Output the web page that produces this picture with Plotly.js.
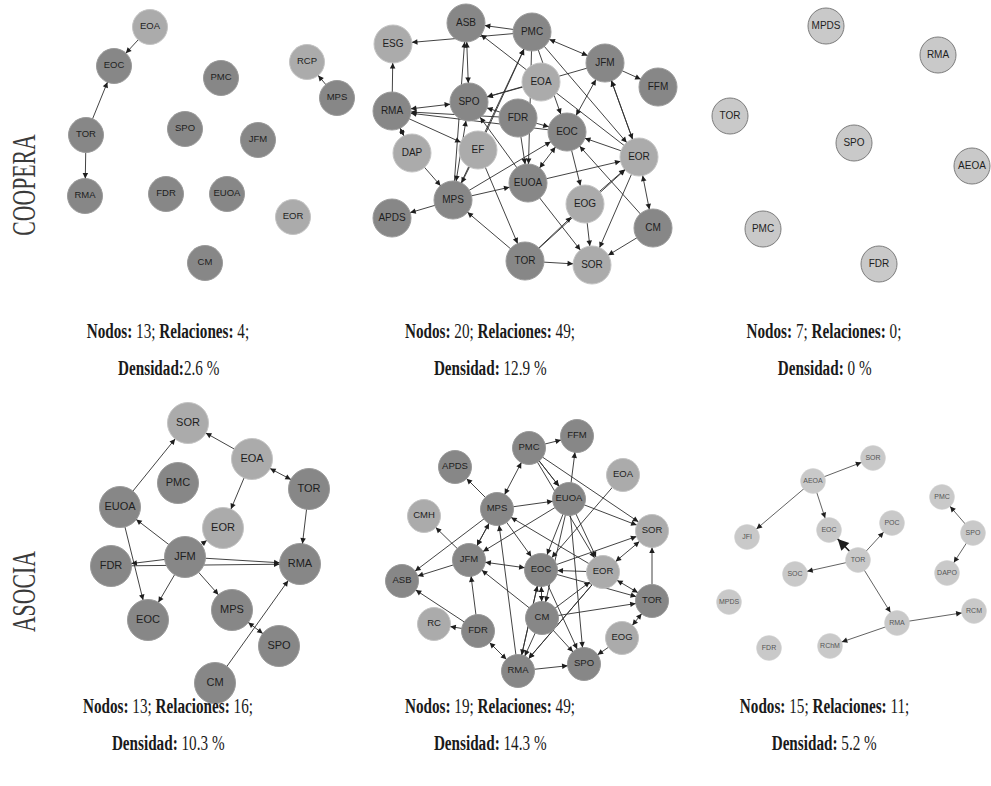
<!DOCTYPE html>
<html>
<head>
<meta charset="utf-8">
<script src="https://cdn.plot.ly/plotly-3.0.1.min.js"></script>
<style>html,body{margin:0;padding:0;background:#fff;}#chart{width:991px;height:786px;}</style>
</head>
<body>
<div id="chart"></div>
<script>
// ---------- DATA ----------
// Panel 1: COOPERA (col 1)
const p1Names = ['EOA','EOC','PMC','RCP','MPS','TOR','SPO','JFM','RMA','FDR','EUOA','EOR','CM'];
const p1X     = [150,114,221,307,337,86,185,258,85,166,227,293,205];
const p1Y     = [27,66,78,62,98,135,129,140,196,194,194,217,263];
const p1Tone  = [0,1,1,0,1,1,1,1,1,1,1,0,1];
const p1From  = ['EOA','TOR','TOR','MPS'];
const p1To    = ['EOC','EOC','RMA','RCP'];
const p1Both  = [0,0,0,0];

// Panel 2: COOPERA (col 2)
const p2Names = ['ASB','PMC','ESG','JFM','FFM','EOA','RMA','SPO','FDR','EOC','DAP','EF','EOR','EUOA','MPS','EOG','APDS','CM','TOR','SOR'];
const p2X     = [466,532,393,605,658,541,392,469,518,567,412,478,639,528,453,585,392,653,525,592];
const p2Y     = [23,32,44,63,87,82,111,102,118,132,153,150,157,183,200,204,218,228,261,265];
const p2Tone  = [1,1,0,1,1,0,1,1,1,1,0,0,0,1,1,0,1,1,1,0];
const p2From  = ['PMC','PMC','RMA','PMC','JFM','EOA','JFM','EOR','PMC','PMC','MPS','SPO','MPS','RMA','RMA','FDR','EOC','RMA','DAP','SPO','EF','FDR','FDR','EUOA','EF','MPS','MPS','MPS','TOR','EUOA','EOC','EOC','EOR','JFM','EOG','EOR','CM','CM','CM','EOG','EUOA','TOR','TOR','TOR','FDR','EOC','PMC','EF','EOR'];
const p2To    = ['ASB','ESG','ESG','JFM','FFM','SPO','SPO','ASB','EOR','EUOA','PMC','ASB','ASB','SPO','EF','RMA','RMA','DAP','MPS','MPS','MPS','SPO','EOC','SPO','TOR','EOC','EUOA','APDS','MPS','EOR','EUOA','JFM','EOC','EOR','EOR','SOR','EOR','EOC','SOR','SOR','SOR','SOR','EOG','EOR','EUOA','EOG','EOC','PMC','JFM'];
const p2Both  = [0,0,0,1,0,0,0,0,0,0,0,1,0,1,0,0,0,1,0,1,0,0,0,0,0,0,0,0,0,0,1,1,0,1,0,0,1,0,0,0,0,0,0,0,0,0,0,0,0];

// Panel 3: COOPERA (col 3)
const p3Names = ['MPDS','RMA','TOR','SPO','AEOA','PMC','FDR'];
const p3X     = [826,938,730,854,972,763,879];
const p3Y     = [26,55,116,143,166,229,264];
const p3From  = [];
const p3To    = [];
const p3Both  = [];

// Panel 4: ASOCIA (col 1)
const p4Names = ['SOR','EOA','PMC','TOR','EUOA','EOR','JFM','FDR','RMA','EOC','MPS','SPO','CM'];
const p4X     = [188,252,178,309,120,223,185,111,300,148,232,279,215];
const p4Y     = [423,459,483,489,507,528,557,566,564,620,610,646,683];
const p4Tone  = [0,0,1,1,1,0,1,1,1,1,1,1,1];
const p4From  = ['EUOA','EOA','EOA','EOA','TOR','JFM','JFM','JFM','FDR','JFM','JFM','EUOA','JFM','MPS','CM'];
const p4To    = ['SOR','SOR','TOR','EOR','RMA','EUOA','EOR','FDR','RMA','RMA','EOC','EOC','MPS','SPO','RMA'];
const p4Both  = [0,0,1,0,0,0,0,0,0,0,0,0,0,1,0];

// Panel 5: ASOCIA (col 2)
const p5Names = ['FFM','PMC','APDS','EOA','EUOA','MPS','CMH','SOR','JFM','EOC','EOR','ASB','TOR','CM','RC','FDR','EOG','SPO','RMA'];
const p5X     = [577,529,455,623,569,497,424,652,469,541,603,402,652,542,434,478,622,584,518];
const p5Y     = [436,448,467,475,499,509,516,531,560,570,572,581,601,618,624,631,638,664,671];
const p5Tone  = [1,1,1,0,1,1,0,0,1,1,0,1,1,1,0,1,0,1,1];
const p5From  = ['PMC','EUOA','MPS','MPS','PMC','PMC','PMC','MPS','MPS','MPS','MPS','EOR','RMA','EUOA','EUOA','EUOA','EUOA','EUOA','EOA','JFM','JFM','JFM','CM','FDR','FDR','FDR','FDR','EOC','EOR','EOR','EOC','EOC','EOR','TOR','TOR','EOG','CM','CM','CM','RMA','RMA','EOR','CM','EOC','CM','EUOA','PMC','MPS','EOR'];
const p5To    = ['FFM','FFM','APDS','PMC','EUOA','SOR','EOR','EUOA','JFM','ASB','EOC','MPS','MPS','JFM','SOR','EOC','EOR','SPO','EOC','CMH','ASB','EOC','JFM','JFM','ASB','RC','RMA','SOR','EOC','SOR','TOR','SPO','TOR','SOR','EOG','SPO','TOR','EOC','RMA','SPO','EOC','RMA','EOR','RMA','SPO','CM','EUOA','JFM','RMA'];
const p5Both  = [0,0,0,1,0,0,0,0,1,0,0,0,0,0,0,0,0,0,0,0,0,1,0,0,0,0,1,0,0,1,0,0,1,0,1,0,0,1,0,0,0,0,0,0,0,0,0,0,0];

// Panel 6: ASOCIA (col 3)
const p6Names = ['SOR','AEOA','PMC','POC','EOC','JFI','SPO','TOR','SOC','DAPO','MPDS','RCM','RMA','RChM','FDR'];
const p6X     = [873,813,942,892,829,747,973,858,795,947,729,974,897,830,769];
const p6Y     = [458,481,497,523,530,537,533,560,574,573,602,611,623,646,648];
const p6From  = ['AEOA','AEOA','AEOA','TOR','TOR','TOR','TOR','RMA','RMA','SPO','SPO'];
const p6To    = ['SOR','JFI','EOC','EOC','POC','SOC','RMA','RCM','RChM','PMC','DAPO'];
const p6Weight= [1,1,1,3,1,1,1,1,1,1,1];

// Captions
const rowLabels = ['COOPERA','ASOCIA'];
const capNodos  = [13,20,7,13,19,15];
const capRel    = [4,49,0,16,49,11];
const capDens   = ['2.6','12.9','0','10.3','14.3','5.2'];

// ---------- LAYOUT / DRAWING ----------
const W = 991, H = 786;
const DARK = '#878787', LIGHT = '#ababab', PALE = '#c9c9c9';

const panels = [
  {names:p1Names,x:p1X,y:p1Y,tone:p1Tone,from:p1From,to:p1To,both:p1Both,box:[0,362,0,300],r:17.5,fs:9.5,style:'std'},
  {names:p2Names,x:p2X,y:p2Y,tone:p2Tone,from:p2From,to:p2To,both:p2Both,box:[362,690,0,300],r:19,fs:10,style:'std'},
  {names:p3Names,x:p3X,y:p3Y,tone:null,from:p3From,to:p3To,both:p3Both,box:[690,991,0,300],r:18,fs:10,style:'pale'},
  {names:p4Names,x:p4X,y:p4Y,tone:p4Tone,from:p4From,to:p4To,both:p4Both,box:[0,362,380,720],r:20.5,fs:11,style:'std'},
  {names:p5Names,x:p5X,y:p5Y,tone:p5Tone,from:p5From,to:p5To,both:p5Both,box:[362,690,380,720],r:16.5,fs:9.5,style:'std'},
  {names:p6Names,x:p6X,y:p6Y,tone:null,from:p6From,to:p6To,both:null,weight:p6Weight,box:[690,991,380,720],r:12.5,fs:7,style:'small'}
];

const traces = [];
const annotations = [];
const layout = {
  width: W, height: H,
  margin: {l:0,r:0,t:0,b:0},
  paper_bgcolor: '#ffffff', plot_bgcolor: 'rgba(0,0,0,0)',
  showlegend: false,
  annotations: annotations
};

panels.forEach((p, i) => {
  const n = i + 1;
  const xa = n === 1 ? 'x' : 'x' + n;
  const ya = n === 1 ? 'y' : 'y' + n;
  const [bx0, bx1, by0, by1] = p.box;
  const axStyle = {showgrid:false, zeroline:false, showticklabels:false, ticks:'', showline:false, fixedrange:true};
  layout[n === 1 ? 'xaxis' : 'xaxis' + n] = Object.assign({}, axStyle, {
    domain:[bx0 / W, bx1 / W], range:[bx0, bx1], anchor: ya
  });
  layout[n === 1 ? 'yaxis' : 'yaxis' + n] = Object.assign({}, axStyle, {
    domain:[1 - by1 / H, 1 - by0 / H], range:[by1, by0], anchor: xa
  });

  const idx = {};
  p.names.forEach((nm, k) => idx[nm] = k);

  // Edge lines (under nodes)
  const ex = [], ey = [];
  p.from.forEach((f, k) => {
    const a = idx[f], b = idx[p.to[k]];
    ex.push(p.x[a], p.x[b], null);
    ey.push(p.y[a], p.y[b], null);
  });
  if (ex.length) {
    traces.push({
      type:'scatter', mode:'lines', x:ex, y:ey, xaxis:xa, yaxis:ya,
      line:{color: p.style === 'small' ? '#3a3a3a' : '#2e2e2e', width: p.style === 'small' ? 0.8 : 0.9},
      hoverinfo:'skip', cliponaxis:false
    });
  }
  if (p.weight) {
    p.from.forEach((f, k) => {
      if (p.weight[k] > 1) {
        const a = idx[f], b = idx[p.to[k]];
        traces.push({type:'scatter', mode:'lines', x:[p.x[a], p.x[b]], y:[p.y[a], p.y[b]],
          xaxis:xa, yaxis:ya, line:{color:'#222', width:1.6}, hoverinfo:'skip', cliponaxis:false});
      }
    });
  }

  // Nodes
  let colors, lineColor, lineWidth;
  if (p.style === 'std') {
    colors = p.tone.map(t => t ? DARK : LIGHT);
    lineColor = p.tone.map(t => t ? '#9a9a9a' : '#c4c4c4');
    lineWidth = 1;
  } else if (p.style === 'pale') {
    colors = p.names.map(() => PALE);
    lineColor = '#7d7d7d'; lineWidth = 1;
  } else {
    colors = p.names.map(() => PALE);
    lineColor = '#d2d2d2'; lineWidth = 0.5;
  }
  traces.push({
    type:'scatter', mode:'markers+text', x:p.x, y:p.y, xaxis:xa, yaxis:ya,
    text:p.names, textposition:'middle center',
    textfont:{family:'Liberation Sans, Arial, sans-serif', size:p.fs, color: p.style === 'small' ? '#555' : '#1e1e1e'},
    marker:{size:2 * p.r, color:colors, line:{color:lineColor, width:lineWidth}, opacity:1},
    hoverinfo:'text', cliponaxis:false
  });

  // Arrowheads
  const addHead = (s, t, w) => {
    const dx = p.x[t] - p.x[s], dy = p.y[t] - p.y[s];
    const L = Math.sqrt(dx * dx + dy * dy);
    const ux = dx / L, uy = dy / L;
    const back = p.r + 7;
    annotations.push({
      x: p.x[t], y: p.y[t], xref: xa, yref: ya,
      ax: p.x[t] - ux * back, ay: p.y[t] - uy * back, axref: xa, ayref: ya,
      text: '', showarrow: true, arrowhead: 2, arrowsize: 1.1,
      arrowwidth: w > 1 ? 2 : 1, arrowcolor: '#1e1e1e', standoff: p.r
    });
  };
  p.from.forEach((f, k) => {
    const a = idx[f], b = idx[p.to[k]];
    const w = p.weight ? p.weight[k] : 1;
    addHead(a, b, w);
    if (p.both && p.both[k]) addHead(b, a, w);
  });
});

// Text annotations that get condensed after rendering
const condensed = []; // [annotation index, scaleX]

// Row labels
const rowY = [185, 592];
rowLabels.forEach((lab, i) => {
  condensed.push([annotations.length, 0.66]);
  annotations.push({
    text: lab, x: 24 / W, y: 1 - rowY[i] / H, xref:'paper', yref:'paper',
    showarrow:false, textangle:-90, xanchor:'center', yanchor:'middle',
    font:{family:'Liberation Serif, Times New Roman, serif', size:33, color:'#3a3a3a'}
  });
});

// Captions
const colX = [168, 490, 824];
const capY1 = [331, 706];
const capY2 = [368, 743];
capNodos.forEach((nd, k) => {
  const col = k % 3, row = Math.floor(k / 3);
  condensed.push([annotations.length, 0.76]);
  annotations.push({
    text: '<b>Nodos:</b> ' + nd + '; <b>Relaciones:</b> ' + capRel[k] + ';',
    x: colX[col] / W, y: 1 - capY1[row] / H, xref:'paper', yref:'paper',
    showarrow:false, xanchor:'center', yanchor:'middle',
    font:{family:'Liberation Serif, Times New Roman, serif', size:20, color:'#1a1a1a'}
  });
  const sep = (k === 0) ? '' : ' ';
  condensed.push([annotations.length, 0.76]);
  annotations.push({
    text: '<b>Densidad:</b>' + sep + capDens[k] + ' %',
    x: colX[col] / W, y: 1 - capY2[row] / H, xref:'paper', yref:'paper',
    showarrow:false, xanchor:'center', yanchor:'middle',
    font:{family:'Liberation Serif, Times New Roman, serif', size:20, color:'#1a1a1a'}
  });
});

Plotly.newPlot('chart', traces, layout, {displayModeBar:false, staticPlot:true}).then(gd => {
  condensed.forEach(([k, s]) => {
    const t = gd.querySelector('g.annotation[data-index="' + k + '"] text.annotation-text');
    if (t) {
      t.style.transformBox = 'fill-box';
      t.style.transformOrigin = 'center';
      t.style.transform = 'scaleX(' + s + ')';
    }
  });
});
</script>
</body>
</html>
